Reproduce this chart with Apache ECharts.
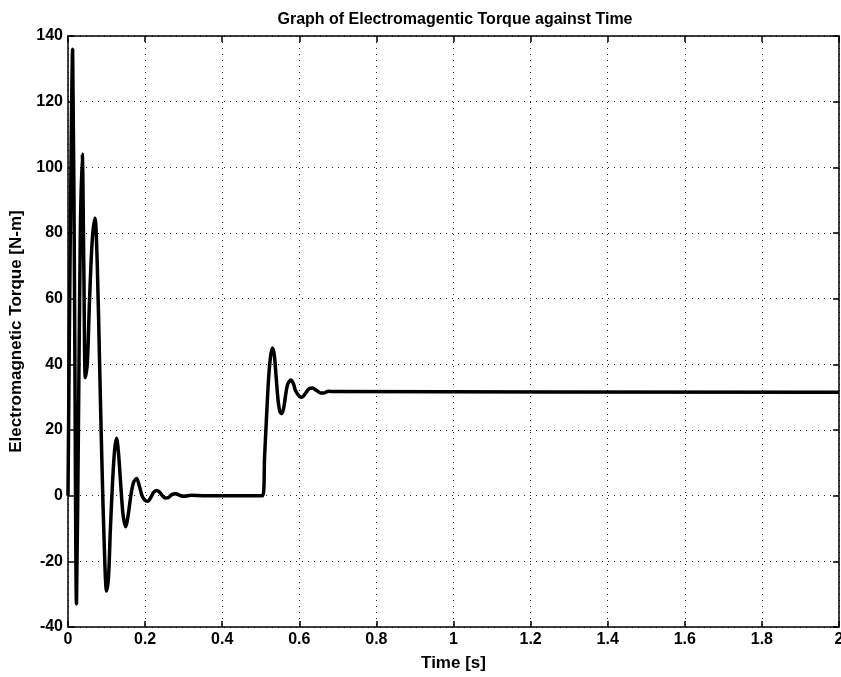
<!DOCTYPE html>
<html>
<head>
<meta charset="utf-8">
<script src="https://cdn.jsdelivr.net/npm/echarts@6/dist/echarts.min.js"></script>
<style>
html,body{margin:0;padding:0;background:#fff;}
#chart{width:841px;height:677px;}
</style>
</head>
<body>
<div id="chart"></div>
<script>
var titleText = "Graph of Electromagentic Torque against Time";
var xAxisName = "Time [s]";
var yAxisName = "Electromagnetic Torque [N-m]";

var timeValues = [
  0, 0.006, 0.012, 0.017, 0.022, 0.027, 0.032, 0.037, 0.041, 0.045,
  0.05, 0.056, 0.063, 0.07, 0.076, 0.082, 0.088, 0.094, 0.1, 0.105,
  0.11, 0.116, 0.121, 0.126, 0.131, 0.137, 0.143, 0.15, 0.156, 0.163,
  0.17, 0.178, 0.185, 0.192, 0.2, 0.207, 0.215, 0.222, 0.23, 0.238,
  0.245, 0.252, 0.26, 0.27, 0.28, 0.29, 0.3, 0.32, 0.35, 0.505,
  0.51, 0.515, 0.52, 0.525, 0.53, 0.535, 0.54, 0.545, 0.55, 0.555,
  0.56, 0.565, 0.57, 0.578, 0.585, 0.59, 0.6, 0.607, 0.615, 0.625,
  0.634, 0.645, 0.655, 0.665, 0.675, 0.69, 2
];
var torqueValues = [
  0, 80, 136, 60, -33, 20, 80, 104, 70, 36,
  40, 60, 78, 84.5, 70, 40, 10, -15, -29, -25,
  -10, 5, 14, 17.5, 13, 3, -6, -9.5, -6, 0,
  4, 5.2, 3, 0, -1.5, -1.7, -0.5, 1, 1.6, 1,
  0, -0.7, -0.6, 0.4, 0.6, 0.1, -0.2, 0.1, 0, 0,
  12, 24, 35, 42, 45, 43, 36, 29, 25.5, 25,
  27, 31, 34, 35.2, 34, 32, 30.3, 30, 31, 32.5,
  32.8, 32, 31.3, 31.3, 31.8, 31.7, 31.5
];

var xTickMin = 0, xTickMax = 2, xTickStep = 0.2;
var yTickMin = -40, yTickMax = 140, yTickStep = 20;

var seriesData = timeValues.map(function (t, i) { return [t, torqueValues[i]]; });

var fontFam = "'Liberation Sans', Arial, sans-serif";
var gridLine = { show: true, lineStyle: { color: '#222', width: 1, type: [1, 5] } };
var frameLine = { show: true, onZero: false, lineStyle: { color: '#000', width: 1.5 } };
var innerTick = { show: true, inside: true, length: 6, lineStyle: { color: '#000', width: 1.5 } };

var chart = echarts.init(document.getElementById('chart'), null, { renderer: 'canvas' });
chart.setOption({
  backgroundColor: '#ffffff',
  animation: false,
  title: {
    text: titleText,
    left: 450, top: 7, textAlign: 'center',
    textStyle: { fontFamily: fontFam, fontSize: 16, fontWeight: 'bold', color: '#000' }
  },
  grid: { left: 68, right: 2, top: 36, bottom: 50, containLabel: false, outerBoundsMode: 'none' },
  xAxis: [{
    type: 'value', min: xTickMin, max: xTickMax, interval: xTickStep,
    name: xAxisName, nameLocation: 'middle', nameGap: 28,
    nameTextStyle: { fontFamily: fontFam, fontSize: 17, fontWeight: 'bold', color: '#000' },
    axisLine: frameLine, axisTick: innerTick,
    axisLabel: { fontFamily: fontFam, fontSize: 16, fontWeight: 'bold', color: '#000', margin: 5 },
    splitLine: gridLine
  }, {
    type: 'value', position: 'top', min: xTickMin, max: xTickMax, interval: xTickStep,
    axisLine: frameLine, axisTick: innerTick,
    axisLabel: { show: false }, splitLine: { show: false }
  }],
  yAxis: [{
    type: 'value', min: yTickMin, max: yTickMax, interval: yTickStep,
    name: yAxisName, nameLocation: 'middle', nameGap: 43, nameRotate: 90,
    nameTextStyle: { fontFamily: fontFam, fontSize: 17, fontWeight: 'bold', color: '#000' },
    axisLine: frameLine, axisTick: innerTick,
    axisLabel: { fontFamily: fontFam, fontSize: 16, fontWeight: 'bold', color: '#000', margin: 5 },
    splitLine: gridLine
  }, {
    type: 'value', position: 'right', min: yTickMin, max: yTickMax, interval: yTickStep,
    axisLine: frameLine, axisTick: innerTick,
    axisLabel: { show: false }, splitLine: { show: false }
  }],
  series: [{
    type: 'line', xAxisIndex: 0, yAxisIndex: 0,
    data: seriesData, showSymbol: false, smooth: 0.3,
    lineStyle: { color: '#000', width: 3.5 }
  }]
});
</script>
</body>
</html>
